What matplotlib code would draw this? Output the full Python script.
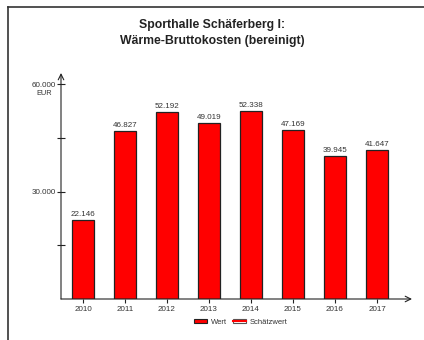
import matplotlib
matplotlib.use("Agg")
import matplotlib.pyplot as plt
from matplotlib.patches import Patch
from matplotlib.lines import Line2D
from matplotlib.legend_handler import HandlerTuple

plt.rcParams['font.family'] = ['Liberation Sans', 'DejaVu Sans']

years = ["2010", "2011", "2012", "2013", "2014", "2015", "2016", "2017"]
values = [22146, 46827, 52192, 49019, 52338, 47169, 39945, 41647]
value_labels = ["22.146", "46.827", "52.192", "49.019", "52.338", "47.169", "39.945", "41.647"]
ytick_pos = [15000, 30000, 45000, 60000]
ytick_labels = ["", "30.000", "", "60.000"]

title_lines = ["Sporthalle Schäferberg I:", "Wärme-Bruttokosten (bereinigt)"]
txt = "#333333"

fig = plt.figure(figsize=(4.24, 3.4), dpi=100)
fig.patch.set_facecolor("white")

# partial outer frame (left + top)
fig.add_artist(Line2D([8/424, 8/424], [0, 1 - 7/340], transform=fig.transFigure,
                      color="#333333", lw=1.2))
fig.add_artist(Line2D([8/424, 1], [1 - 7/340, 1 - 7/340], transform=fig.transFigure,
                      color="#333333", lw=1.2))

ax = fig.add_axes([61/424, 41/340, 351/424, 226/340])
x = list(range(len(years)))
ax.bar(x, values, width=0.52, color="#ff0000", edgecolor="#222222", linewidth=0.9)

for xi, v, lab in zip(x, values, value_labels):
    ax.annotate(lab, (xi, v), xytext=(0, 1.5), textcoords="offset points",
                ha="center", va="bottom", fontsize=5.8, color=txt)

ax.set_xlim(-0.524, 7.833)
ax.set_ylim(0, 63070)

for s in ax.spines.values():
    s.set_visible(False)

# axes with arrows
ax.annotate("", xy=(1, 0), xytext=(0, 0), xycoords="axes fraction",
            arrowprops=dict(arrowstyle="->", lw=0.8, color="#222222",
                            shrinkA=0, shrinkB=0))
ax.annotate("", xy=(0, 1), xytext=(0, 0), xycoords="axes fraction",
            arrowprops=dict(arrowstyle="->", lw=0.8, color="#222222",
                            shrinkA=0, shrinkB=0))

ax.set_xticks(x)
ax.set_xticklabels(years, fontsize=5.8, color=txt)
ax.tick_params(axis="x", direction="out", length=3, width=0.8, color="#222222", pad=2)
ax.set_yticks(ytick_pos)
ax.set_yticklabels(ytick_labels, fontsize=5.8, color=txt)
ax.tick_params(axis="y", direction="inout", length=6, width=0.8, color="#222222", pad=1)

ax.text(-0.025, 57350, "EUR", transform=ax.get_yaxis_transform(),
        ha="right", va="center", fontsize=5.3, color=txt)

fig.text(0.5, 1 - 25/340, title_lines[0], ha="center", va="center", fontsize=8.8,
         fontweight="bold", color="#222222")
fig.text(0.5, 1 - 41/340, title_lines[1], ha="center", va="center", fontsize=8.8,
         fontweight="bold", color="#222222")

h1 = Patch(facecolor="#ff0000", edgecolor="#222222", linewidth=0.8)
h2 = (Patch(facecolor="white", edgecolor="#555555", linewidth=0.8),
      Line2D([], [], color="#ff0000", lw=1.5))
fig.legend([h1, h2], ["Wert", "Schätzwert"], loc="center",
           bbox_to_anchor=(241/424, 1 - 322/340), ncol=2, frameon=False,
           fontsize=5.5, handlelength=1.7, handleheight=0.45, handletextpad=0.5,
           columnspacing=0.8, labelcolor=txt,
           handler_map={tuple: HandlerTuple(ndivide=1)})

fig.savefig("out.png", dpi=100)
